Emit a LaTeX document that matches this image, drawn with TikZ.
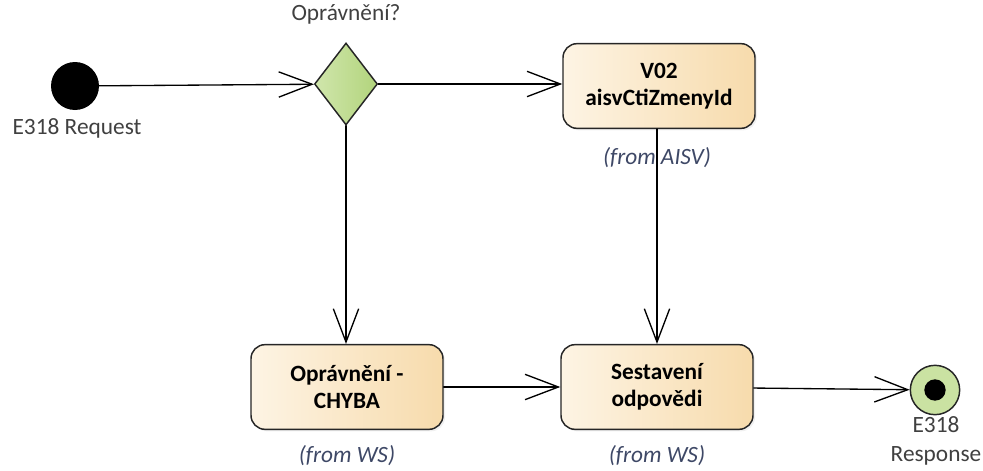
\documentclass[tikz,border=0pt]{standalone}
\usepackage{fontspec}
\setmainfont{Carlito}
\usetikzlibrary{arrows.meta,shapes.geometric,shadows}

\definecolor{actLeft}{RGB}{253,244,228}
\definecolor{actRight}{RGB}{247,219,172}
\definecolor{decLeft}{RGB}{208,230,172}
\definecolor{decRight}{RGB}{178,212,124}
\definecolor{fromText}{RGB}{62,72,102}
\definecolor{lblText}{RGB}{64,64,64}

\tikzset{
  act/.style={draw=black!85, line width=1.1pt, rounded corners=10.5pt, left color=actLeft, right color=actRight,
    minimum width=144pt, minimum height=63.5pt, align=center, font=\fontsize{17.5}{20.5}\selectfont\bfseries,
    drop shadow={opacity=0.12, shadow xshift=1.5pt, shadow yshift=-1.5pt}},
  lbl/.style={inner sep=0.75pt, text=lblText, align=center, font=\fontsize{17.5}{22}\selectfont},
  from/.style={inner sep=0.75pt, text=fromText, font=\fontsize{17.5}{20}\selectfont\itshape},
  flow/.style={line width=1pt, line cap=round, -{Straight Barb[length=25pt,width=19pt,line width=1pt]}}
}

\begin{document}
\begin{tikzpicture}[x=0.75pt,y=0.75pt,yscale=-1]
  \useasboundingbox (0,0) rectangle (983,471);

  %Shape: Initial node
  \node [circle, fill=black, minimum size=36pt, inner sep=0pt] (start) at (75,86) {};
  %Shape: Decision
  \node [diamond, draw=black!85, line width=1.1pt, left color=decLeft, right color=decRight,
         minimum width=47.25pt, minimum height=61.5pt, inner sep=0pt] (gate) at (346,84) {};
  %Shape: Actions
  \node [act] (v02) at (659,86) {V02\\aisvCtiZmenyId};
  \node [act] (chyba) at (347,387) {Oprávnění -\\CHYBA};
  \node [act] (sestav) at (657,387) {Sestavení\\odpovědi};
  %Shape: Final node
  \node [circle, draw=black!85, line width=1.1pt, fill=decLeft!80!decRight, minimum size=37pt, inner sep=0pt] (finish) at (935,390) {};
  \node [circle, fill=black, minimum size=16pt, inner sep=0pt] (finishDot) at (finish.center) {};

  % Text Node
  \node [lbl] (lblStart) at (77,128) {E318 Request};
  \node [lbl] (lblGate) at (346,14) {Oprávnění?};
  \node [lbl] (lblFinish) at (936,441) {E318\\Response};
  \node [from] (fromV02) at (657,158) {(from AISV)};
  \node [from] (fromChyba) at (347,456) {(from WS)};
  \node [from] (fromSestav) at (657,456) {(from WS)};

  %Straight Lines
  \draw [flow] (start) -- (gate);
  \draw [flow] (gate.east) -- (v02.west |- gate.east);
  \draw [flow] (gate.south) -- (chyba.north -| gate.south);
  \draw [flow] (v02.south -| sestav.north) -- (sestav.north);
  \draw [flow] (chyba) -- (sestav);
  \draw [flow] (sestav) -- (finish);
\end{tikzpicture}
\end{document}
